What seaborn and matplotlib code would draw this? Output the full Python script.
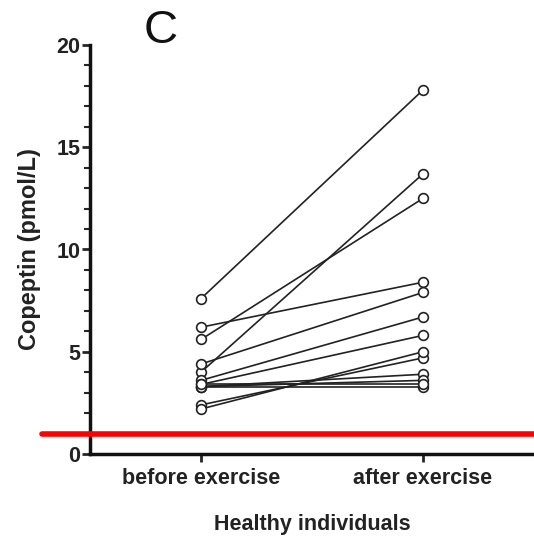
import numpy as np
import pandas as pd
import matplotlib
matplotlib.use("Agg")
import matplotlib.pyplot as plt
import seaborn as sns

# Data
conditions = ["before exercise", "after exercise"]
before = [7.6, 6.2, 5.6, 4.0, 4.4, 3.6, 3.4, 2.4, 2.2, 3.3, 3.3, 3.3, 3.4]
after = [17.8, 8.4, 12.5, 13.7, 7.9, 6.7, 5.8, 4.7, 5.0, 3.9, 3.6, 3.3, 3.4]
threshold = 1.0
yticks = [0, 5, 10, 15, 20]

n = len(before)
df = pd.DataFrame({
    "subject": list(range(n)) * 2,
    "pos": [0] * n + [1] * n,
    "value": before + after,
})

sns.set_style("ticks")
plt.rcParams['font.family'] = ['Liberation Sans', 'DejaVu Sans']

fig = plt.figure(figsize=(5.34, 5.41), dpi=100)
ax = fig.add_axes([90 / 534, (541 - 454) / 541, 1 - 90 / 534, (454 - 45) / 541])

sns.lineplot(data=df, x="pos", y="value", units="subject", estimator=None,
             color="#222222", linewidth=1.2, marker="o", markersize=7,
             markerfacecolor="white", markeredgecolor="#222222",
             markeredgewidth=1.2, ax=ax, legend=False)
for ln in ax.lines:
    ln.set_clip_on(False)

ax.set_xlim(-0.5, 1.5)
ax.set_ylim(0, 20)
ax.set_xticks([0, 1])
ax.set_xticklabels(conditions, fontsize=15.5, fontweight="bold", color="#222222")
ax.set_yticks(yticks)
ax.set_yticklabels([str(t) for t in yticks], fontsize=15.5, fontweight="bold", color="#222222")
ax.set_yticks(np.arange(0, 21, 1), minor=True)
ax.tick_params(axis="y", which="major", length=6, width=2, direction="out", pad=1)
ax.tick_params(axis="y", which="minor", length=4, width=1.5, direction="out")
ax.tick_params(axis="x", which="major", length=6, width=2, direction="out", pad=4)

for s in ["top", "right"]:
    ax.spines[s].set_visible(False)
for s in ["left", "bottom"]:
    ax.spines[s].set_linewidth(2.5)
    ax.spines[s].set_color("#111111")

ax.set_ylabel("Copeptin (pmol/L)", fontsize=17, fontweight="bold", color="#222222", labelpad=11)
ax.set_xlabel("Healthy individuals", fontsize=15.5, fontweight="bold", color="#222222", labelpad=18)

ax.axhline(threshold, xmin=-(90 - 42) / 444, xmax=1, color="#ff0000", linewidth=4, clip_on=False, zorder=5)

fig.text(161 / 534, 1 - 31 / 541, "C", fontsize=34, ha="center", va="center", color="#111111")

fig.savefig("out.png", dpi=100)
